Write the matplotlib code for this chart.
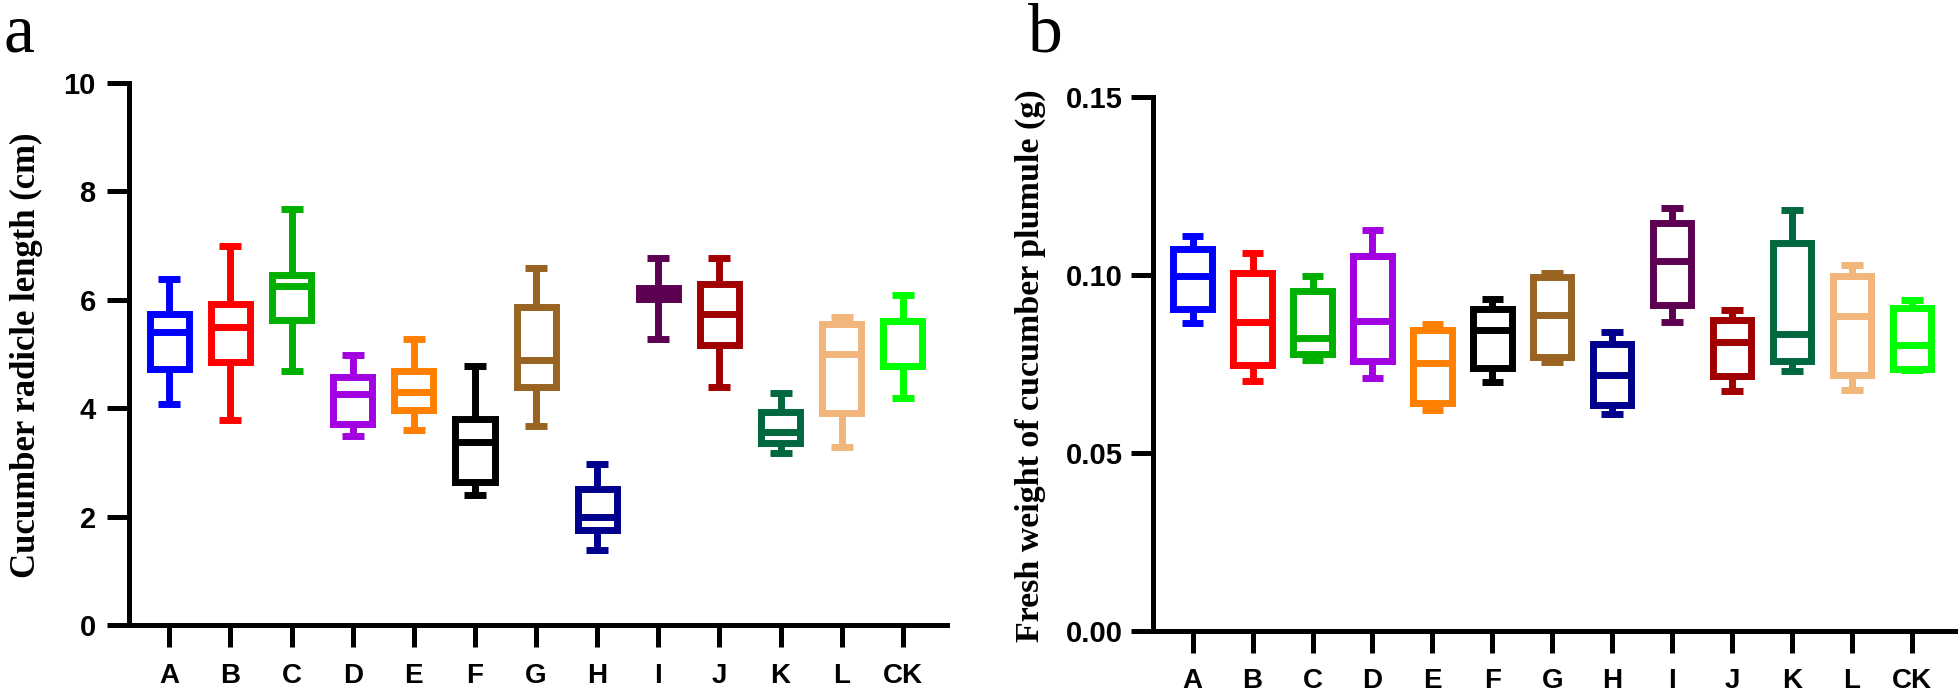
import matplotlib
matplotlib.use("Agg")
import matplotlib.pyplot as plt
from matplotlib.ticker import FormatStrFormatter

# treatment groups and box colours
groups = ['A', 'B', 'C', 'D', 'E', 'F', 'G', 'H', 'I', 'J', 'K', 'L', 'CK']
colors = ['#0000FF', '#FF0000', '#00B000', '#A300E2', '#FF8000', '#000000', '#996322',
          '#00008C', '#5E0052', '#A00000', '#00683F', '#F2B57C', '#00FF00']

# panel a: cucumber radicle length (cm)
radicle_whislo = [4.08, 3.79, 4.68, 3.49, 3.59, 2.39, 3.68, 1.39, 5.28, 4.39, 3.18, 3.28, 4.19]
radicle_q1 = [4.72, 4.86, 5.62, 3.71, 3.96, 2.64, 4.40, 1.76, 6.02, 5.16, 3.36, 3.91, 4.77]
radicle_med = [5.40, 5.49, 6.25, 4.26, 4.30, 3.38, 4.89, 1.99, 6.12, 5.74, 3.56, 5.00, 5.61]
radicle_q3 = [5.74, 5.92, 6.46, 4.58, 4.68, 3.80, 5.87, 2.51, 6.22, 6.30, 3.93, 5.56, 5.61]
radicle_whishi = [6.39, 6.99, 7.68, 4.98, 5.28, 4.78, 6.58, 2.98, 6.78, 6.78, 4.28, 5.68, 6.08]

# panel b: fresh weight of cucumber plumule (g)
plumule_whislo = [0.0864, 0.0703, 0.0761, 0.0711, 0.0620, 0.0700, 0.0755, 0.0610, 0.0868, 0.0673, 0.0729, 0.0676, 0.0733]
plumule_q1 = [0.0905, 0.0748, 0.0777, 0.0759, 0.0641, 0.0738, 0.0770, 0.0635, 0.0915, 0.0716, 0.0759, 0.0718, 0.0735]
plumule_med = [0.0996, 0.0867, 0.0824, 0.0870, 0.0754, 0.0845, 0.0888, 0.0718, 0.1039, 0.0813, 0.0835, 0.0886, 0.0802]
plumule_q3 = [0.1074, 0.1005, 0.0955, 0.1052, 0.0845, 0.0905, 0.0993, 0.0806, 0.1147, 0.0874, 0.1091, 0.0998, 0.0907]
plumule_whishi = [0.1109, 0.1061, 0.0997, 0.1126, 0.0861, 0.0933, 0.1007, 0.0839, 0.1187, 0.0903, 0.1183, 0.1028, 0.0930]

BOX_LW = 5.0
SPINE_LW = 3.6


def make_stats(lo, q1, med, q3, hi):
    stats = []
    for i in range(len(groups)):
        stats.append({'whislo': lo[i], 'q1': q1[i], 'med': med[i], 'q3': q3[i],
                      'whishi': hi[i], 'fliers': [], 'label': groups[i]})
    return stats


def draw_panel(ax, stats, yticks, ylim, fmt, ypad):
    pos = list(range(len(groups)))
    art = ax.bxp(stats, positions=pos, widths=0.64, capwidths=0.36,
                 showfliers=False, manage_ticks=False)
    for i, c in enumerate(colors):
        box = art['boxes'][i]
        box.set_color(c)
        box.set_linewidth(BOX_LW)
        box.set_solid_joinstyle('miter')
        box.set_solid_capstyle('projecting')
        med = art['medians'][i]
        med.set_color(c)
        med.set_linewidth(BOX_LW)
        med.set_solid_capstyle('butt')
        for ln in art['whiskers'][2 * i:2 * i + 2] + art['caps'][2 * i:2 * i + 2]:
            ln.set_color(c)
            ln.set_linewidth(BOX_LW)
            ln.set_solid_capstyle('butt')
    for a in ax.lines:
        a.set_clip_on(False)

    ax.set_xlim(-0.66, 12.72)
    ax.set_ylim(*ylim)
    ax.set_yticks(yticks)
    ax.yaxis.set_major_formatter(FormatStrFormatter(fmt))
    ax.set_xticks(pos)
    ax.set_xticklabels(groups)
    for s in ['top', 'right']:
        ax.spines[s].set_visible(False)
    for s in ['left', 'bottom']:
        ax.spines[s].set_linewidth(SPINE_LW)
        ax.spines[s].set_capstyle('projecting')
    ax.tick_params(axis='both', length=16, width=SPINE_LW)
    ax.tick_params(axis='y', pad=ypad)
    ax.tick_params(axis='x', pad=11)
    for lab in ax.get_xticklabels():
        lab.set_fontfamily('Liberation Sans')
        lab.set_fontweight('bold')
        lab.set_fontsize(20)
    for lab in ax.get_yticklabels():
        lab.set_fontfamily('Liberation Sans')
        lab.set_fontweight('bold')
        lab.set_fontsize(21)


fig = plt.figure(figsize=(19.6, 6.92), dpi=100)
ax1 = fig.add_axes([0.0658, 0.0968, 0.4173, 0.7832])
ax2 = fig.add_axes([0.5883, 0.0882, 0.4092, 0.7716])

draw_panel(ax1, make_stats(radicle_whislo, radicle_q1, radicle_med, radicle_q3, radicle_whishi),
           [0, 2, 4, 6, 8, 10], (0, 10), '%d', 8)
draw_panel(ax2, make_stats(plumule_whislo, plumule_q1, plumule_med, plumule_q3, plumule_whishi),
           [0.0, 0.05, 0.10, 0.15], (0, 0.15), '%.2f', 6)

fig.text(0.0135, 0.487, 'Cucumber radicle length (cm)', rotation=90, ha='center', va='center',
         family='Liberation Serif', fontweight='bold', fontsize=25)
fig.text(0.5255, 0.472, 'Fresh weight of cucumber plumule (g)', rotation=90, ha='center', va='center',
         family='Liberation Serif', fontweight='bold', fontsize=24.5)

fig.text(0.002, 0.925, 'a', family='Liberation Serif', fontsize=50, va='baseline')
fig.text(0.5245, 0.925, 'b', family='Liberation Serif', fontsize=50, va='baseline')

fig.savefig('out.png', dpi=100)
